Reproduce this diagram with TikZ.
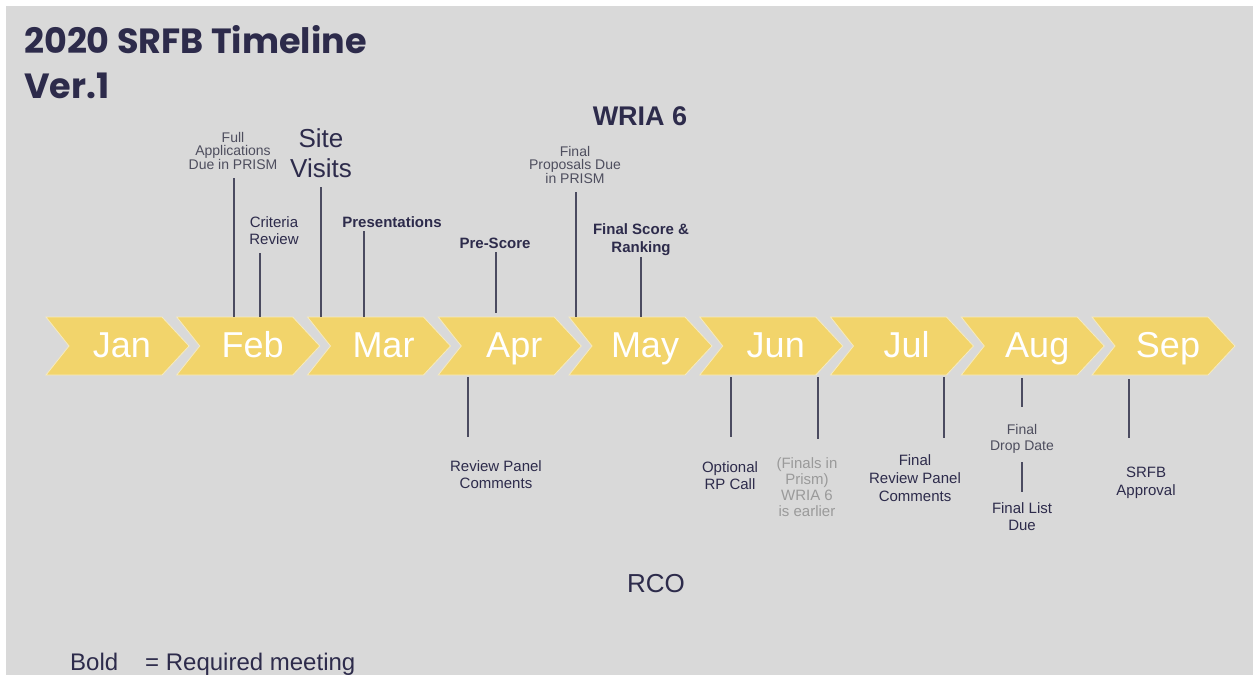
\documentclass[tikz,border=0pt]{standalone}
\usepackage{fontspec}
\setmainfont{Liberation Sans}
\newfontfamily\titlefont{Poppins}
\definecolor{bgc}{HTML}{D9D9D9}
\definecolor{chev}{HTML}{F2D46B}
\definecolor{chevedge}{HTML}{F6EBBF}
\definecolor{navy}{HTML}{2D2B4B}
\definecolor{tick}{HTML}{4B4B60}
\definecolor{smallgray}{HTML}{4E4E5E}
\definecolor{lightgray}{HTML}{9A9A9A}
\tikzset{
  lbl/.style={inner sep=0pt, align=center, text=navy, font=\fontsize{15}{17}\selectfont},
  lblb/.style={lbl, font=\fontsize{15}{18}\selectfont\bfseries},
  lbls/.style={inner sep=0pt, align=center, text=smallgray, font=\fontsize{14}{12.5}\selectfont},
  ticko/.style={draw=tick, line width=1.3pt},
  monthtxt/.style={inner sep=0pt, anchor=base, text=white, font=\fontsize{36}{40}\selectfont},
  chevron/.style={fill=chev, draw=chevedge, line width=0.8pt}
}
\begin{document}
\begin{tikzpicture}[x=1pt,y=-1pt]
\useasboundingbox (0,0) rectangle (1253,683);
\fill[white] (0,0) rectangle (1253,683);
\fill[bgc] (6,6) rectangle (1253,675);

% title
\node[inner sep=0pt, anchor=base west, text=navy, font=\titlefont\bfseries\fontsize{35}{40}\selectfont] (title) at (24,53) {2020 SRFB Timeline};
\node[inner sep=0pt, anchor=base west, text=navy, font=\titlefont\bfseries\fontsize{35}{40}\selectfont] (ver) at (24,98) {Ver.1};

% chevrons
\foreach \m [count=\i from 0] in {Jan,Feb,Mar,Apr,May,Jun,Jul,Aug,Sep}{
  \pgfmathsetmacro{\xo}{46+130.75*\i}
  \draw[chevron] (\xo,317) -- ++(116,0) -- ++(27,29) -- ++(-27,29) -- ++(-116,0) -- ++(23,-29) -- cycle;
  \node[monthtxt] (m\m) at (\xo+76,357) {\m};
}

% top labels
\node[inner sep=0pt, anchor=base, text=navy, font=\fontsize{27}{30}\selectfont\bfseries] (wria) at (640,125) {WRIA 6};

\node[lbls] (fullapp) at (233,151) {Full\\Applications\\Due in PRISM};
\coordinate (fullappA) at (234,178); \coordinate (fullappB) at (234,317);
\draw[ticko] (fullappA) -- (fullappB);

\node[lbl] (crit) at (274,231) {Criteria\\Review};
\coordinate (critA) at (260,253); \coordinate (critB) at (260,317);
\draw[ticko] (critA) -- (critB);

\node[lbl, font=\fontsize{26}{30}\selectfont] (site) at (321,153) {Site\\Visits};
\coordinate (siteA) at (321,187); \coordinate (siteB) at (321,317);
\draw[ticko] (siteA) -- (siteB);

\node[lblb] (pres) at (392,222) {Presentations};
\coordinate (presA) at (364,231); \coordinate (presB) at (364,317);
\draw[ticko] (presA) -- (presB);

\node[lblb] (pre) at (495,243) {Pre-Score};
\coordinate (preA) at (496,252); \coordinate (preB) at (496,313);
\draw[ticko] (preA) -- (preB);

\node[lbls] (finprop) at (575,165) {Final\\Proposals Due\\in PRISM};
\coordinate (finpropA) at (576,192); \coordinate (finpropB) at (576,317);
\draw[ticko] (finpropA) -- (finpropB);

\node[lblb] (score) at (641,240) {Final Score \&\\Ranking};
\coordinate (scoreA) at (641,257); \coordinate (scoreB) at (641,317);
\draw[ticko] (scoreA) -- (scoreB);

% bottom labels
\coordinate (rpcA) at (468,377); \coordinate (rpcB) at (468,437);
\draw[ticko] (rpcA) -- (rpcB);
\node[lbl] (rpc) at (496,475) {Review Panel\\Comments};

\coordinate (optA) at (731,377); \coordinate (optB) at (731,437);
\draw[ticko] (optA) -- (optB);
\node[lbl] (opt) at (730,476) {Optional\\RP Call};

\coordinate (finA) at (818,377); \coordinate (finB) at (818,439);
\draw[ticko] (finA) -- (finB);
\node[lbl, text=lightgray, font=\fontsize{15}{16}\selectfont] (fin) at (807,487) {(Finals in\\Prism)\\WRIA 6\\is earlier};

\coordinate (frpcA) at (944,377); \coordinate (frpcB) at (944,438);
\draw[ticko] (frpcA) -- (frpcB);
\node[lbl, font=\fontsize{15}{18}\selectfont] (frpc) at (915,478) {Final\\Review Panel\\Comments};

\coordinate (dropA) at (1022,378); \coordinate (dropB) at (1022,407);
\draw[ticko] (dropA) -- (dropB);
\node[lbl, text=smallgray, font=\fontsize{14}{16}\selectfont] (drop) at (1022,439) {Final\\Drop Date};
\coordinate (listA) at (1022,462); \coordinate (listB) at (1022,492);
\draw[ticko] (listA) -- (listB);
\node[lbl] (list) at (1022,517) {Final List\\Due};

\coordinate (apprA) at (1129,379); \coordinate (apprB) at (1129,438);
\draw[ticko] (apprA) -- (apprB);
\node[lbl, font=\fontsize{15}{18}\selectfont] (appr) at (1146,483) {SRFB\\Approval};

\node[inner sep=0pt, anchor=base, text=navy, font=\fontsize{26}{30}\selectfont] (rco) at (656,592) {RCO};

\node[inner sep=0pt, anchor=base west, text=navy, font=\fontsize{24}{26}\selectfont] (bold) at (70,670) {Bold};
\node[inner sep=0pt, anchor=base west, text=navy, font=\fontsize{24}{26}\selectfont] (req) at (145,670) {= Required meeting};
\end{tikzpicture}
\end{document}
